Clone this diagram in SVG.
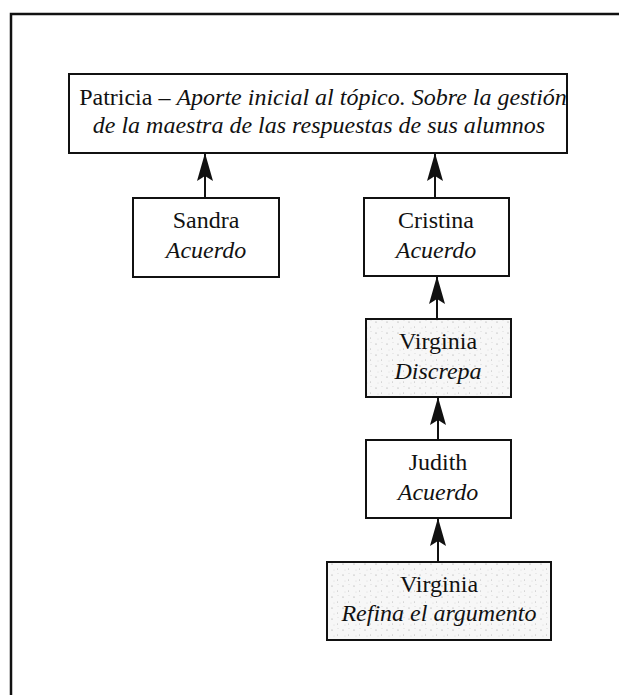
<svg xmlns="http://www.w3.org/2000/svg" width="619" height="695" viewBox="0 0 619 695">
<style>
.box{fill:#ffffff;stroke:#111;stroke-width:2}
.shade{stroke:#111;stroke-width:2}
text{font-family:"Liberation Serif","Times New Roman",serif;font-size:24px;fill:#111;text-anchor:middle}
.it{font-style:italic}
.conn{stroke:#111;stroke-width:2;fill:none}
</style>
<defs>
<marker id="ah" markerUnits="userSpaceOnUse" viewBox="0 -9 30 18" refX="28" refY="0" markerWidth="30" markerHeight="18" orient="auto">
<path d="M0,-8 L28,0 L0,8 L5,0 Z" fill="#111"/>
</marker>
<pattern id="dots" width="11" height="11" patternUnits="userSpaceOnUse">
<rect width="11" height="11" fill="#f7f7f7"/>
<circle cx="2" cy="3" r="0.6" fill="#999"/>
<circle cx="7.5" cy="8" r="0.5" fill="#aaa"/>
<circle cx="8" cy="1.5" r="0.4" fill="#bbb"/>
<circle cx="4" cy="9" r="0.4" fill="#bbb"/>
</pattern>
</defs>
<rect x="11" y="14" width="700" height="800" fill="none" stroke="#111" stroke-width="2.5"/>
<g id="connectors">
<line class="conn" x1="205" y1="198" x2="205" y2="153" marker-end="url(#ah)"/>
<line class="conn" x1="435" y1="198" x2="435" y2="153" marker-end="url(#ah)"/>
<line class="conn" x1="437" y1="319" x2="437" y2="276" marker-end="url(#ah)"/>
<line class="conn" x1="438" y1="440" x2="438" y2="397" marker-end="url(#ah)"/>
<line class="conn" x1="438" y1="562" x2="438" y2="518" marker-end="url(#ah)"/>
</g>
<g id="patricia">
<rect class="box" x="69" y="74" width="498" height="79"/>
<text x="323" y="105">Patricia – <tspan class="it">Aporte inicial al tópico. Sobre la gestión</tspan></text>
<text class="it" x="319" y="133">de la maestra de las respuestas de sus alumnos</text>
</g>
<g id="sandra">
<rect class="box" x="133" y="198" width="146" height="79"/>
<text x="206" y="228">Sandra</text>
<text class="it" x="206" y="258">Acuerdo</text>
</g>
<g id="cristina">
<rect class="box" x="364" y="198" width="145" height="78"/>
<text x="436" y="228">Cristina</text>
<text class="it" x="436" y="258">Acuerdo</text>
</g>
<g id="virginia1">
<rect class="shade" x="366" y="319" width="145" height="78" fill="url(#dots)"/>
<text x="438" y="349">Virginia</text>
<text class="it" x="438" y="379">Discrepa</text>
</g>
<g id="judith">
<rect class="box" x="366" y="440" width="145" height="78"/>
<text x="438" y="470">Judith</text>
<text class="it" x="438" y="500">Acuerdo</text>
</g>
<g id="virginia2">
<rect class="shade" x="327" y="562" width="224" height="78" fill="url(#dots)"/>
<text x="439" y="592">Virginia</text>
<text class="it" x="439" y="621">Refina el argumento</text>
</g>
</svg>
